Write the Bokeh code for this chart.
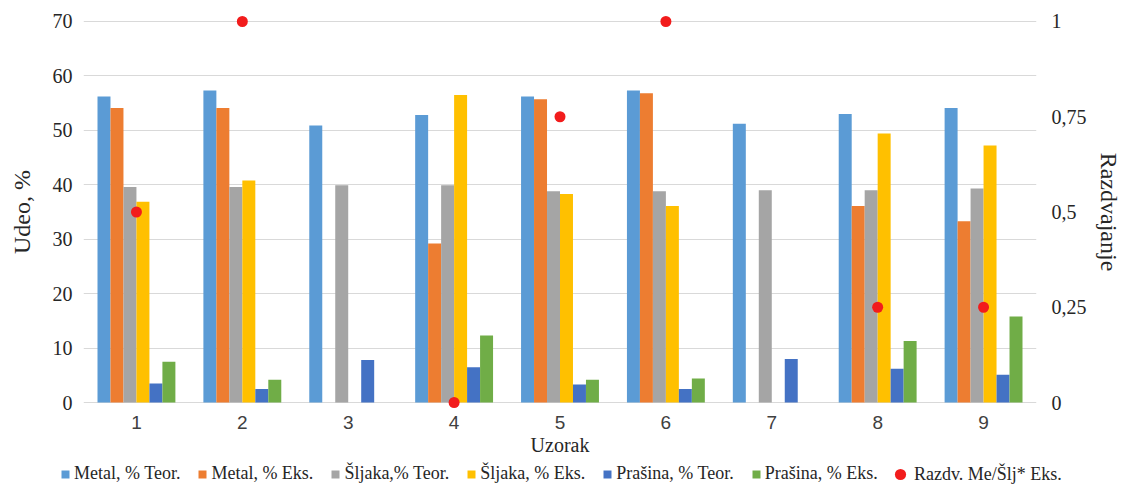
import numpy as np
from bokeh.plotting import figure
from bokeh.models import (ColumnDataSource, Range1d, LinearAxis, FixedTicker, FactorRange,
                          Legend, LegendItem, CustomJSTickFormatter)
from bokeh.transform import dodge
from bokeh.embed import file_html
from bokeh.resources import INLINE

nan = np.nan

uzorak = ["1", "2", "3", "4", "5", "6", "7", "8", "9"]
metal_teor = [56.2, 57.3, 50.9, 52.8, 56.2, 57.3, 51.2, 53.0, 54.1]
metal_eks = [54.1, 54.1, nan, 29.2, 55.7, 56.8, nan, 36.1, 33.3]
sljaka_teor = [39.6, 39.6, 39.9, 39.9, 38.8, 38.8, 39.0, 39.0, 39.3]
sljaka_eks = [36.9, 40.8, nan, 56.5, 38.3, 36.1, nan, 49.4, 47.2]
prasina_teor = [3.5, 2.5, 7.8, 6.5, 3.3, 2.5, 8.0, 6.2, 5.1]
prasina_eks = [7.5, 4.2, nan, 12.3, 4.2, 4.4, nan, 11.3, 15.8]
razdvajanje = [0.5, 1.0, nan, 0.0, 0.75, 1.0, nan, 0.25, 0.25]

series_names = ["Metal, % Teor.", "Metal, % Eks.", "Šljaka,% Teor.",
                "Šljaka, % Eks.", "Prašina, % Teor.", "Prašina, % Eks."]
series_keys = ["mt", "me", "st", "se", "pt", "pe"]
series_colors = ["#5B9BD5", "#ED7D31", "#A5A5A5", "#FFC000", "#4472C4", "#70AD47"]
dot_name = "Razdv. Me/Šlj* Eks."
dot_color = "#F21C1C"
left_ticks = [0, 10, 20, 30, 40, 50, 60, 70]
right_ticks = [0, 0.25, 0.5, 0.75, 1]

source = ColumnDataSource(data=dict(
    cat=uzorak,
    mt=np.array(metal_teor, dtype=float),
    me=np.array(metal_eks, dtype=float),
    st=np.array(sljaka_teor, dtype=float),
    se=np.array(sljaka_eks, dtype=float),
    pt=np.array(prasina_teor, dtype=float),
    pe=np.array(prasina_eks, dtype=float),
    r=np.array(razdvajanje, dtype=float),
))

SERIF = "Liberation Serif"
SANS = "Liberation Sans"
TXT = "#262626"
bw = 0.1226


def add_series(fig):
    bars = []
    for i, (k, c) in enumerate(zip(series_keys, series_colors)):
        off = (i - 2.5) * bw
        bars.append(fig.vbar(x=dodge("cat", off, range=fig.x_range), top=k, bottom=0,
                             width=bw, source=source, fill_color=c, line_color=None))
    dots = fig.scatter(x="cat", y="r", y_range_name="r", source=source, size=11,
                       fill_color=dot_color, line_color=None)
    return bars, dots


# ---------------- main chart ----------------
p = figure(x_range=uzorak, y_range=Range1d(-1.1, 71.1),
           width=1124, height=458, output_backend="svg", toolbar_location=None,
           min_border_left=83, min_border_right=86, min_border_top=15,
           min_border_bottom=50)
p.extra_y_ranges = {"r": Range1d(-1.1 / 70, 71.1 / 70)}
p.outline_line_color = None
p.x_range.range_padding = 0
add_series(p)

p.xgrid.grid_line_color = None
p.ygrid.ticker = FixedTicker(ticks=left_ticks)
p.ygrid.grid_line_color = "#D9D9D9"
p.ygrid.grid_line_width = 1.2

ya = p.yaxis[0]
ya.ticker = FixedTicker(ticks=left_ticks)
ya.axis_line_color = None
ya.major_tick_line_color = None
ya.minor_tick_line_color = None
ya.major_tick_out = 0
ya.major_label_standoff = 11
ya.major_label_text_font = SERIF
ya.major_label_text_font_size = "20px"
ya.major_label_text_color = TXT
ya.axis_label = "Udeo, %"
ya.axis_label_text_font = SERIF
ya.axis_label_text_font_size = "24px"
ya.axis_label_text_font_style = "normal"
ya.axis_label_text_color = TXT
ya.axis_label_standoff = 15

ra = LinearAxis(y_range_name="r", ticker=FixedTicker(ticks=right_ticks),
                formatter=CustomJSTickFormatter(code="return tick.toString().replace('.', ',')"))
ra.axis_line_color = None
ra.major_tick_line_color = None
ra.minor_tick_line_color = None
ra.major_tick_out = 0
ra.major_label_standoff = 15
ra.major_label_text_font = SERIF
ra.major_label_text_font_size = "20px"
ra.major_label_text_color = TXT
ra.axis_label = "Razdvajanje"
ra.axis_label_text_font = SERIF
ra.axis_label_text_font_size = "24px"
ra.axis_label_text_font_style = "normal"
ra.axis_label_text_color = TXT
ra.axis_label_standoff = 6
p.add_layout(ra, "right")

xa = p.xaxis[0]
xa.axis_line_color = None
xa.major_tick_line_color = None
xa.minor_tick_line_color = None
xa.major_tick_out = 0
xa.major_label_standoff = 7
xa.major_label_text_font = SANS
xa.major_label_text_font_size = "19px"
xa.major_label_text_color = "#404040"
xa.axis_label = "Uzorak"
xa.axis_label_text_font = SERIF
xa.axis_label_text_font_size = "20px"
xa.axis_label_text_font_style = "normal"
xa.axis_label_text_color = TXT
xa.axis_label_standoff = 2

# ---------------- legend strip (separate root; its range has no data factors) ----------------
lg = figure(width=1124, height=30, output_backend="svg", toolbar_location=None,
            x_range=FactorRange(factors=["legenda"]), y_range=Range1d(0, 1),
            x_axis_type=None, y_axis_type=None, min_border=0)
lg.extra_y_ranges = {"r": Range1d(0, 1)}
lg.outline_line_color = None
lg.xgrid.grid_line_color = None
lg.ygrid.grid_line_color = None
lg_bars, lg_dots = add_series(lg)

legA = Legend(items=[LegendItem(label=n, renderers=[r]) for n, r in zip(series_names, lg_bars)],
              orientation="horizontal", location=(60, 4),
              glyph_width=10, glyph_height=10, label_standoff=4, spacing=17,
              padding=0, margin=0, border_line_color=None, background_fill_alpha=0,
              label_text_font=SERIF, label_text_font_size="18px",
              label_text_color=TXT)
legB = Legend(items=[LegendItem(label=dot_name, renderers=[lg_dots])],
              orientation="horizontal", location=(886, 0),
              glyph_width=28, glyph_height=28, label_standoff=0, spacing=0,
              padding=0, margin=0, border_line_color=None, background_fill_alpha=0,
              label_text_font=SERIF, label_text_font_size="18px",
              label_text_color=TXT)
lg.add_layout(legA)
lg.add_layout(legB)

open("out.html", "w").write(file_html([p, lg], INLINE))
